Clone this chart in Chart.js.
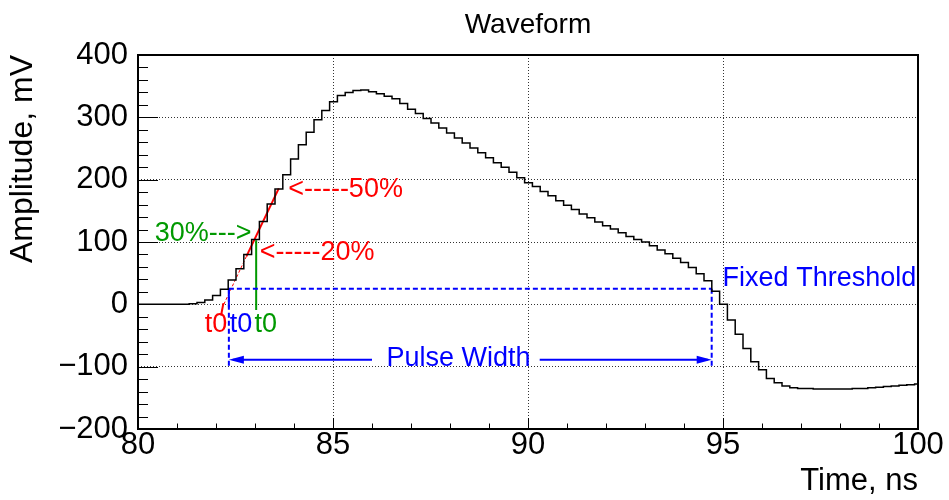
<!DOCTYPE html>
<html>
<head>
<meta charset="utf-8">
<title>Waveform</title>
<script src="https://cdn.jsdelivr.net/npm/chart.js@4.4.1/dist/chart.umd.min.js"></script>
<style>
  html, body { margin: 0; padding: 0; background: #fff; }
</style>
</head>
<body>
<canvas id="Waveform" width="949" height="500"></canvas>
<script>
// digitizer samples, 0.2 ns bins (left edges start just before 80 ns)
const binStart = 79.913;
const binWidth = 0.2;
const amplitudes = [
  0, 0, 0, 0, 0, 0, 0, 1, 3, 7,
  14, 24, 39, 57, 80, 104, 133, 161, 185, 208,
  233, 256, 276, 296, 311, 325, 335, 340, 343, 344,
  341, 338, 334, 330, 322, 313, 306, 298, 291, 283,
  275, 267, 259, 251, 243, 235, 227, 220, 212, 203,
  195, 189, 181, 174, 166, 159, 152, 145, 139, 132,
  126, 121, 115, 109, 104, 100, 94, 87, 81, 74,
  67, 59, 49, 38, 21, 0, -25, -48, -71, -92,
  -105, -119, -126, -131, -134, -135, -135, -136, -136, -136,
  -136, -136, -135, -135, -134, -133, -132, -131, -130, -129,
  -128, -128
];
const times = amplitudes.map((_, i) => +(binStart + i * binWidth).toFixed(3));

const xTicks = [80, 85, 90, 95, 100];
const yTicks = [-200, -100, 0, 100, 200, 300, 400];

// timing markers (ns, mV)
const threshold = 25;
const t0Fixed = 82.33;
const tEnd = 94.71;
const t0Cfd = 83.03;
const cfdLevel = 103;
const fitT = [82.78, 83.61];
const fitA = [77, 186];
const t0Fit = 82.20;
const widthArrowY = -89;
const widthGap = [86.0, 90.3];

const RED = '#ff0000', BLUE = '#0000ff', GREEN = '#009900';
const FONT = '"Liberation Sans", Arial, Helvetica, sans-serif';

const notes = [
  { text: '30%--->', t: 80.43, a: 113, color: GREEN },
  { text: '<-----50%', t: 83.85, a: 184, color: RED },
  { text: '<-----20%', t: 83.12, a: 83, color: RED },
  { text: 't0', t: 81.71, a: -32, color: RED },
  { text: 't0', t: 82.35, a: -32, color: BLUE },
  { text: 't0', t: 82.99, a: -32, color: GREEN },
  { text: 'Fixed Threshold', t: 94.99, a: 41, color: BLUE },
  { text: 'Pulse Width', t: 86.37, a: -87, color: BLUE }
];

function seg(pts, color, width, dash) {
  return {
    data: pts.map(p => ({ x: p[0], y: p[1] })),
    borderColor: color,
    borderWidth: width,
    borderDash: dash || [],
    pointRadius: 0,
    fill: false
  };
}

function arrow(ctx, x1, x2, py, color) {
  const dir = Math.sign(x2 - x1);
  ctx.strokeStyle = color;
  ctx.fillStyle = color;
  ctx.lineWidth = 2;
  ctx.setLineDash([]);
  ctx.beginPath();
  ctx.moveTo(x1, py);
  ctx.lineTo(x2 - dir * 4, py);
  ctx.stroke();
  ctx.beginPath();
  ctx.moveTo(x2, py);
  ctx.lineTo(x2 - dir * 15, py - 4);
  ctx.lineTo(x2 - dir * 15, py + 4);
  ctx.closePath();
  ctx.fill();
}

const rootStyle = {
  id: 'rootStyle',
  afterDatasetsDraw(chart) {
    const { ctx, chartArea: a, scales: { x, y } } = chart;
    ctx.save();

    // inward ticks like ROOT
    ctx.strokeStyle = '#000';
    ctx.lineWidth = 1;
    ctx.beginPath();
    for (let v = -200; v <= 400; v += 20) {
      const py = Math.round(y.getPixelForValue(v)) + 0.5;
      const len = v % 100 === 0 ? 20 : 10;
      ctx.moveTo(a.left, py);
      ctx.lineTo(a.left + len, py);
    }
    for (let t = 80; t <= 100; t += 1) {
      const px = Math.round(x.getPixelForValue(t)) + 0.5;
      const len = t % 5 === 0 ? 11 : 5.5;
      ctx.moveTo(px, a.bottom);
      ctx.lineTo(px, a.bottom - len);
    }
    ctx.stroke();

    // frame
    ctx.lineWidth = 2;
    ctx.strokeRect(a.left, a.top, a.right - a.left, a.bottom - a.top);

    // pulse width arrows
    const ay = y.getPixelForValue(widthArrowY);
    arrow(ctx, x.getPixelForValue(widthGap[0]), x.getPixelForValue(t0Fixed), ay, BLUE);
    arrow(ctx, x.getPixelForValue(widthGap[1]), x.getPixelForValue(tEnd), ay, BLUE);

    // labels
    ctx.font = '27px ' + FONT;
    ctx.textAlign = 'left';
    ctx.textBaseline = 'middle';
    notes.forEach(n => {
      ctx.fillStyle = n.color;
      ctx.fillText(n.text, x.getPixelForValue(n.t), y.getPixelForValue(n.a));
    });
    ctx.restore();
  }
};

new Chart(document.getElementById('Waveform'), {
  type: 'line',
  data: {
    datasets: [
      {
        data: times.map((t, i) => ({ x: t, y: amplitudes[i] })),
        borderColor: '#000',
        borderWidth: 1.5,
        stepped: 'before',
        pointRadius: 0,
        fill: false,
        clip: 0
      },
      seg([[t0Fixed, threshold], [tEnd, threshold]], BLUE, 2, [5, 3]),
      seg([[t0Fixed, threshold], [t0Fixed, -100]], BLUE, 2, [5, 3]),
      seg([[tEnd, threshold], [tEnd, -100]], BLUE, 2, [5, 3]),
      seg([[t0Fixed, threshold], [t0Fixed, -5]], BLUE, 2),
      seg([[t0Cfd, cfdLevel], [t0Cfd, -9]], GREEN, 2),
      seg([[t0Fit, 0], [fitT[0], fitA[0]]], RED, 1, [3, 2]),
      seg([[fitT[0], fitA[0]], [fitT[1], fitA[1]]], RED, 2),
      seg([[t0Fit - 0.01, 2], [t0Fit - 0.07, -18]], RED, 2)
    ]
  },
  options: {
    responsive: false,
    animation: false,
    devicePixelRatio: 1,
    layout: { padding: { left: 0, right: 31, top: 0, bottom: 0 } },
    plugins: {
      legend: { display: false },
      tooltip: { enabled: false },
      title: {
        display: true,
        text: 'Waveform',
        color: '#000',
        fullSize: false,
        font: { family: FONT, size: 28, weight: 'normal', lineHeight: 1.2 },
        padding: { top: 8.5, bottom: 12.9 }
      }
    },
    scales: {
      x: {
        type: 'linear',
        min: 80,
        max: 100,
        afterBuildTicks: s => { s.ticks = xTicks.map(v => ({ value: v })); },
        afterFit: s => { s.height = 71; s.paddingLeft = 0; s.paddingRight = 0; },
        ticks: { color: '#000', font: { family: FONT, size: 31 }, padding: -2, maxRotation: 0, autoSkip: false },
        grid: { color: '#333', lineWidth: 1, drawTicks: false },
        border: { display: false, dash: [1, 2] },
        title: {
          display: true, text: 'Time, ns', align: 'end', color: '#000',
          font: { family: FONT, size: 31, lineHeight: 1.2 }, padding: { top: 0, bottom: 0 }
        }
      },
      y: {
        type: 'linear',
        min: -200,
        max: 400,
        afterBuildTicks: s => { s.ticks = yTicks.map(v => ({ value: v })); },
        afterFit: s => { s.width = 138; s.paddingTop = 0; s.paddingBottom = 0; },
        ticks: {
          color: '#000', font: { family: FONT, size: 31 }, padding: 10,
          callback: v => (v < 0 ? '\u2212' + Math.abs(v) : String(v))
        },
        grid: { color: '#333', lineWidth: 1, drawTicks: false },
        border: { display: false, dash: [1, 2] },
        title: {
          display: true, text: 'Amplitude, mV', align: 'end', color: '#000',
          font: { family: FONT, size: 32, lineHeight: 1.2 }, padding: { top: 4, bottom: 0 }
        }
      }
    }
  },
  plugins: [rootStyle]
});
</script>
</body>
</html>
